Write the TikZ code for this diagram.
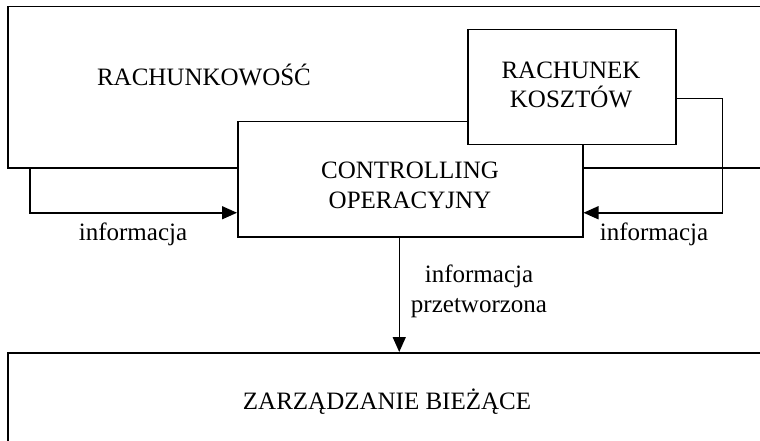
\documentclass[tikz,border=0pt]{standalone}
\usepackage{fontspec}
\setmainfont{Liberation Serif}
\usetikzlibrary{arrows.meta}
\begin{document}
\begin{tikzpicture}[x=1pt,y=-1pt,
  box/.style={draw, line width=1.5pt, fill=white, inner sep=0pt, anchor=north west},
  lbl/.style={inner sep=0pt, font=\fontsize{25}{29.5}\selectfont, align=center, anchor=base},
  arr/.style={line width=1.5pt, -{Triangle[length=15pt,width=13pt]}}]
\useasboundingbox (0,0) rectangle (760,441);
\clip (0,0) rectangle (760,441);
% big outer box (extends beyond the right edge)
\node[box, minimum width=780pt, minimum height=161pt] (rach) at (7,6) {};
\node[lbl] (rachtxt) at (204,86) {RACHUNKOWOŚĆ};
% bottom box
\node[box, minimum width=780pt, minimum height=120pt] (zarz) at (7,352) {};
\node[lbl] (zarztxt) at (387,409) {ZARZĄDZANIE BIEŻĄCE};
% controlling
\node[box, minimum width=345pt, minimum height=115pt] (ctrl) at (237,121) {};
\node[lbl] (ctrltxt) at (410,208) {CONTROLLING\\OPERACYJNY};
% rachunek kosztow
\node[box, minimum width=208pt, minimum height=115pt] (kosz) at (467,29) {};
\node[lbl] (kosztxt) at (571,108) {RACHUNEK\\KOSZTÓW};
% connectors
\draw[arr] ([xshift=23pt]rach.south west) |- ([yshift=-33.5pt]ctrl.west);
\draw[arr] ([yshift=-11.5pt]kosz.east) -- ++(46,0) |- ([yshift=-33.5pt]ctrl.east);
\draw[arr] ([xshift=-11pt]ctrl.south) -- ([xshift=-11pt]ctrl.south |- zarz.north);
% labels
\node[lbl] (inf1) at (133,240) {informacja};
\node[lbl] (inf2) at (654,240) {informacja};
\node[lbl] (inf3) at (479,312) {informacja\\przetworzona};
\end{tikzpicture}
\end{document}
